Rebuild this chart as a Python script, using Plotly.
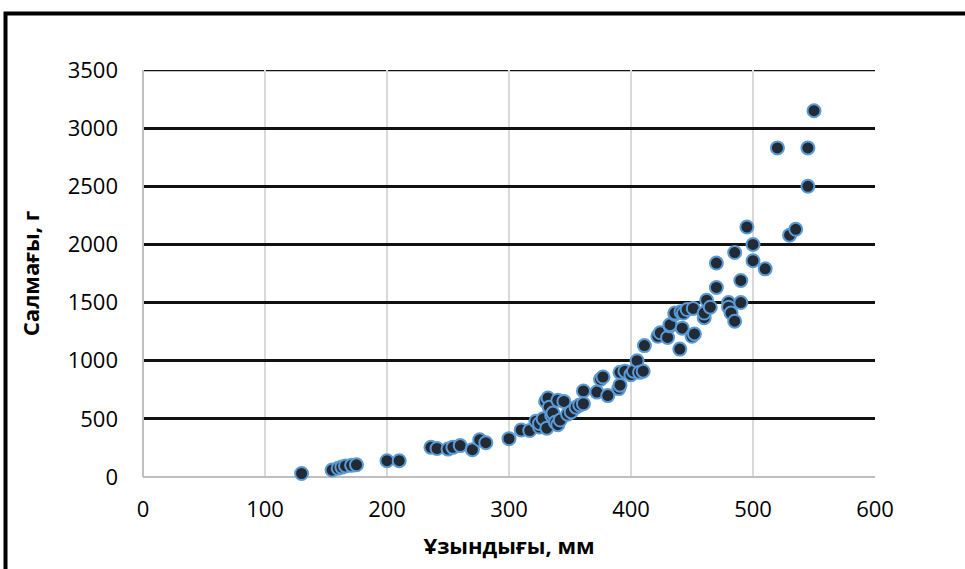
import plotly.graph_objects as go

# Data
lengths_mm = [130, 155, 160, 163, 166, 171, 175, 200, 210, 236, 241, 250, 254, 260, 270, 276, 281,
              300, 310, 317, 322, 325, 325, 328, 330, 331, 332, 333, 335, 336, 338, 340, 340, 342,
              345, 348, 351, 355, 358, 361, 361, 372, 375, 377, 381, 390, 391, 391, 395, 400, 402,
              405, 407, 410, 411, 422, 424, 430, 432, 432, 436, 436, 440, 441, 442, 443, 446, 450,
              451, 452, 460, 460, 462, 465, 470, 470, 480, 480, 482, 485, 485, 490, 490, 495, 500,
              500, 510, 520, 530, 535, 545, 545, 550]
weights_g = [30, 60, 75, 85, 95, 100, 105, 140, 140, 255, 245, 240, 255, 270, 235, 320, 295,
             330, 405, 400, 480, 430, 460, 500, 650, 420, 680, 600, 530, 550, 470, 660, 450, 490,
             650, 540, 560, 600, 620, 740, 630, 730, 840, 860, 700, 760, 790, 900, 910, 880, 910,
             1000, 900, 910, 1130, 1210, 1240, 1200, 1300, 1310, 1400, 1410, 1100, 1420, 1280, 1410, 1440, 1210,
             1450, 1230, 1370, 1410, 1520, 1460, 1840, 1630, 1500, 1460, 1410, 1340, 1930, 1500, 1690, 2150, 2000,
             1860, 1790, 2830, 2080, 2130, 2830, 2500, 3150]

x_ticks = [0, 100, 200, 300, 400, 500, 600]
y_ticks = [0, 500, 1000, 1500, 2000, 2500, 3000, 3500]
x_title = "Ұзындығы, мм"
y_title = "Салмағы, г"

FONT = "Open Sans"

fig = go.Figure()
fig.add_trace(go.Scatter(
    x=lengths_mm, y=weights_g, mode="markers",
    marker=dict(size=13, color="#222a35", line=dict(color="#5b9bd5", width=2)),
    cliponaxis=False, showlegend=False,
))

fig.update_layout(
    width=965, height=569,
    margin=dict(l=143, r=90, t=70, b=92),
    paper_bgcolor="white", plot_bgcolor="white",
    font=dict(family=FONT, color="#000000", size=22),
    xaxis=dict(
        range=[0, 600], tickvals=x_ticks, ticktext=[str(v) for v in x_ticks],
        showgrid=True, gridcolor="#d9d9d9", gridwidth=2,
        zeroline=True, zerolinecolor="#bfbfbf", zerolinewidth=2,
        showline=False, ticks="", ticklabelstandoff=17,
        tickfont=dict(family=FONT, size=22),
        title=dict(text="<b>" + x_title + "</b>", font=dict(family=FONT, size=22), standoff=16),
    ),
    yaxis=dict(
        range=[0, 3500], tickvals=y_ticks, ticktext=[str(v) for v in y_ticks],
        showgrid=True, gridcolor="#111111", gridwidth=2.5,
        zeroline=True, zerolinecolor="#bfbfbf", zerolinewidth=2,
        showline=False, ticks="", ticklabelstandoff=24,
        tickfont=dict(family=FONT, size=22),
        title=dict(text="<b>" + y_title + "</b>", font=dict(family=FONT, size=22), standoff=21),
    ),
    shapes=[
        dict(type="line", xref="paper", yref="y", x0=0, x1=1, y0=y_ticks[-1], y1=y_ticks[-1],
             line=dict(color="#111111", width=2.5), layer="below"),
        dict(type="rect", xref="paper", yref="paper",
             x0=(5.5 - 143) / 732, x1=1.3, y0=-0.4, y1=(477 - 13.5) / 407,
             line=dict(color="black", width=4), fillcolor="rgba(0,0,0,0)", layer="above"),
    ],
)

fig.write_html("out.html")
